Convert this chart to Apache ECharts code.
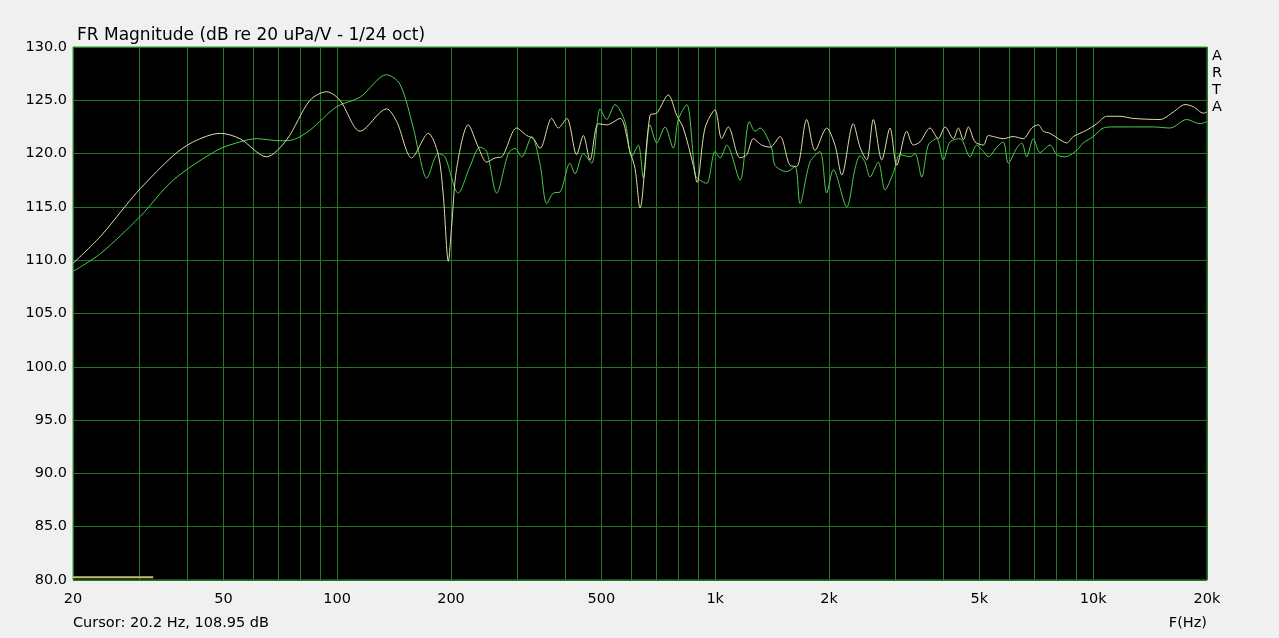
<!DOCTYPE html>
<html>
<head>
<meta charset="utf-8">
<script src="https://cdn.jsdelivr.net/npm/echarts@6/dist/echarts.min.js"></script>
<style>
html,body{margin:0;padding:0;background:#f0f0f0;}
#chart{width:1279px;height:638px;}
</style>
</head>
<body>
<div id="chart"></div>
<script>
// Pale yellow trace (frequency Hz, dB)
const freqYellow = [20,23.6,27.7,30.1,36.8,41.6,49,55.3,65,73.5,84.7,93.8,101.7,115,135,143.7,157.4,174.2,185.1,190.8,196.8,200.9,207,222.2,236.2,248.6,261.6,272.4,298.4,317.2,330.2,344,369.4,384.6,404.8,430,447.8,466.4,490.6,516.4,560,595,613.6,632.4,672.2,700.4,751.4,790.8,823.4,875,895,939.8,998.8,1040,1083,1163,1212,1261,1327,1396,1484,1577,1643,1746,1837,1972,2074,2162,2318,2416,2516,2620,2758,2900,3022,3212,3342,3482,3700,3892,4056,4266,4398,4534,4674,4868,5120,5278,5442,5782,6146,6532,6874,7158,7378,7690,8084,8510,8860,9612,10214,10856,11772,12766,15020,16292,17494,18400,19554,20000];
const dbYellow = [109.7,112.2,115.2,116.7,119.8,121.1,121.9,121.4,119.7,121.3,125.0,125.8,125.0,122.1,124.2,123.0,119.6,121.9,119.9,116.1,109.9,113.3,118.6,122.7,120.6,119.2,119.6,119.7,122.4,121.7,121.4,120.5,123.3,122.4,123.3,119.9,121.7,119.4,122.8,122.7,123.3,120.2,118.6,114.9,123.6,123.8,125.5,123.6,122.4,118.9,117.3,122.4,124.1,121.4,122.5,119.6,119.9,121.4,120.8,120.6,121.6,118.9,118.8,123.2,120.3,122.4,120.8,118.0,122.8,120.6,119.4,123.2,119.4,122.4,118.9,122.1,120.8,121.1,122.4,121.4,122.5,121.4,122.4,121.3,122.5,121.1,120.8,121.7,121.6,121.4,121.6,121.4,122.4,122.7,122.1,121.9,121.4,121.0,121.6,122.2,122.8,123.5,123.5,123.3,123.2,123.9,124.6,124.4,123.8,123.9];

// Green trace (frequency Hz, dB)
const freqGreen = [20,23.6,30.1,36.8,48,55.3,61.2,70.6,76.5,84.7,99.7,115,135,146.6,159,163.9,172.5,185.1,192.8,209,224.6,238.6,248.6,264.2,283.6,295.4,307.6,327,344,358.4,373,388.6,412.8,425.6,447.8,471.2,496,516.4,543.2,577.2,601.2,626,645.4,672.2,700.4,736.4,774.6,798.6,840.6,886,912,949.6,998.8,1030,1073,1163,1231,1274,1314,1411,1439,1546,1626,1677,1781,1893,1972,2054,2228,2344,2416,2490,2568,2700,2814,2960,3083,3276,3378,3518,3662,3854,4012,4180,4444,4720,4918,5120,5278,5556,5782,5962,6274,6470,6668,6944,7232,7690,8006,8422,9042,9414,10008,10634,11300,12766,14416,15964,17676,19166,20000];
const dbGreen = [108.95,110.6,114.1,117.5,120.3,121.1,121.4,121.2,121.3,122.2,124.4,125.3,127.4,126.5,122.4,120.3,117.7,120.0,119.7,116.3,118.8,120.6,120.2,116.3,120.0,120.5,119.7,121.6,119.0,115.3,116.3,116.4,119.1,118.1,120.0,119.1,124.2,123.2,124.6,123.0,119.7,120.8,117.7,122.7,121.0,122.5,120.5,123.2,124.6,118.0,117.5,117.2,120.2,119.6,120.8,117.5,123.0,122.1,122.4,120.5,118.9,118.3,118.8,115.3,119.2,120.2,116.3,118.5,115.0,118.6,119.8,119.2,117.8,119.2,116.6,118.2,119.9,119.7,120.0,117.8,120.8,121.4,119.4,121.1,121.4,119.7,120.8,120.2,119.7,120.6,121.1,119.1,120.5,121.0,119.7,121.4,120.1,120.8,119.9,119.7,120.3,121.0,121.6,122.4,122.5,122.5,122.5,122.4,123.2,122.8,123.0];

// Cursor marker at bottom
const freqMarker = [20, 32.6];
const dbMarker = [80.25, 80.25];

// Axis ticks
const gridFreqs = [20,30,40,50,60,70,80,90,100,200,300,400,500,600,700,800,900,1000,2000,3000,4000,5000,6000,7000,8000,9000,10000,20000];
const labelFreqs = [20,50,100,200,500,1000,2000,5000,10000,20000];
const yMin = 80, yMax = 130, yStep = 5;

const zip = (a, b) => a.map((v, i) => [v, b[i]]);
const gridColor = '#1f7a1f';

const chart = echarts.init(document.getElementById('chart'), null, {renderer: 'canvas'});
const font = '"DejaVu Sans", "Liberation Sans", Arial, sans-serif';
const fs = 14.5;
chart.setOption({
  backgroundColor: '#f0f0f0',
  animation: false,
  title: {
    text: 'FR Magnitude (dB re 20 uPa/V - 1/24 oct)',
    left: 72, top: 22,
    textStyle: {fontFamily: font, fontSize: 17, fontWeight: 'normal', color: '#000'}
  },
  grid: {
    left: 73, right: 72, top: 47, bottom: 58,
    show: true, backgroundColor: '#000', borderColor: '#3a8a3a', borderWidth: 1
  },
  xAxis: {
    type: 'log', logBase: 10, min: 20, max: 20000,
    axisLine: {show: false},
    axisTick: {show: false, customValues: gridFreqs},
    axisLabel: {
      customValues: labelFreqs,
      margin: 12,
      fontFamily: font, fontSize: fs, color: '#000',
      formatter: v => v >= 1000 ? (v / 1000) + 'k' : String(v)
    },
    splitLine: {show: true, lineStyle: {color: gridColor, width: 1}}
  },
  yAxis: {
    type: 'value', min: yMin, max: yMax, interval: yStep,
    axisLine: {show: false}, axisTick: {show: false},
    axisLabel: {
      margin: 6, fontFamily: font, fontSize: fs, color: '#000',
      formatter: v => v.toFixed(1)
    },
    splitLine: {show: true, lineStyle: {color: gridColor, width: 1}}
  },
  graphic: [
    {type: 'text', left: 73, top: 616, style: {text: 'Cursor: 20.2 Hz, 108.95 dB', font: fs + 'px ' + font, fill: '#000'}},
    {type: 'text', right: 72, top: 616, style: {text: 'F(Hz)', font: fs + 'px ' + font, fill: '#000'}},
    {type: 'text', left: 1212, top: 48, style: {text: 'A\nR\nT\nA', font: fs + 'px ' + font, fill: '#000', lineHeight: 17}}
  ],
  series: [
    {
      type: 'line', data: zip(freqGreen, dbGreen), showSymbol: false, smooth: 0.3,
      lineStyle: {color: '#4ccc4c', width: 1}, z: 3
    },
    {
      type: 'line', data: zip(freqYellow, dbYellow), showSymbol: false, smooth: 0.3,
      lineStyle: {color: '#e0dca8', width: 1}, z: 4
    },
    {
      type: 'line', data: zip(freqMarker, dbMarker), showSymbol: false,
      lineStyle: {color: '#c8c070', width: 2}, z: 5
    }
  ]
});
</script>
</body>
</html>
